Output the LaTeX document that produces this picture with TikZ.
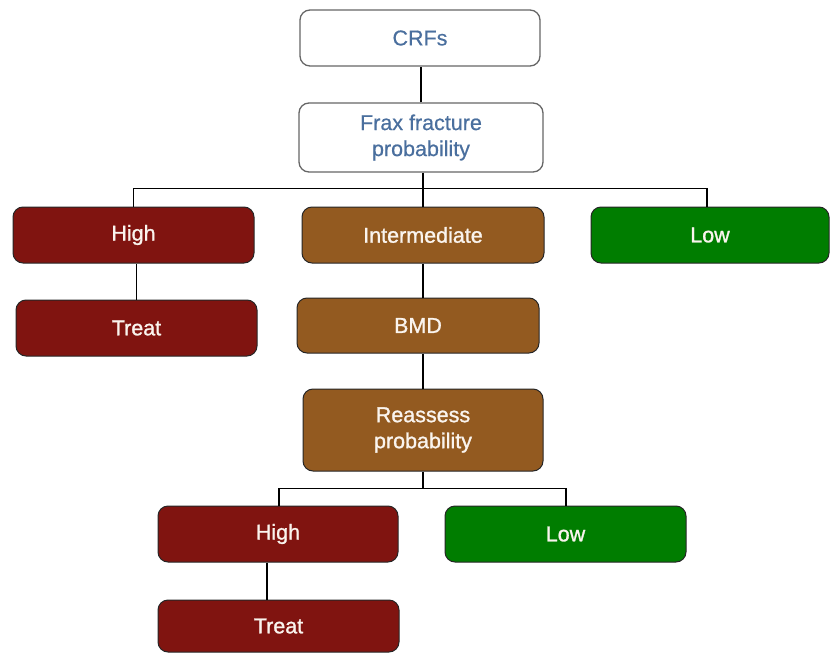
\documentclass[tikz,border=0pt]{standalone}
\usepackage{fontspec}
\setmainfont{Liberation Sans}
\newfontface\labelfont[FakeBold=1.2]{Liberation Sans}
\newfontface\lightlabelfont[FakeBold=0.5]{Liberation Sans}
\definecolor{topblue}{RGB}{74,111,158}
\definecolor{boxred}{RGB}{128,20,16}
\definecolor{boxbrown}{RGB}{147,90,32}
\definecolor{boxgreen}{RGB}{0,125,0}
\definecolor{boxtext}{RGB}{250,244,238}
\begin{document}
\begin{tikzpicture}[x=1pt,y=-1pt,
  box/.style={rounded corners=10pt,align=center,inner sep=0pt,minimum height=56pt},
  plainbox/.style={box,draw=black!60,line width=1.3pt,fill=white,text=topblue,
    font=\lightlabelfont\fontsize{21.5}{26}\selectfont},
  colourbox/.style={box,draw=black!85,line width=1pt,text=boxtext,
    font=\labelfont\fontsize{21.5}{26}\selectfont},
  redbox/.style={colourbox,fill=boxred},
  brownbox/.style={colourbox,fill=boxbrown},
  greenbox/.style={colourbox,fill=boxgreen},
  link/.style={draw=black,line width=1.3pt}]
\useasboundingbox (0,0) rectangle (830,653);

% top of the tree
\node[plainbox,minimum width=240pt] (crf) at (420,38) {CRFs};
\node[plainbox,minimum width=244pt,minimum height=69pt] (frax) at (421,137.5) {Frax fracture\\probability};

% first level of outcomes
\node[redbox,minimum width=241pt] (high) at (133.5,235) {High};
\node[brownbox,minimum width=242pt] (inter) at (423,235) {Intermediate};
\node[greenbox,minimum width=238pt] (low) at (710,235) {Low};

\node[redbox,minimum width=241pt] (treat) at (136.5,328) {Treat};
\node[brownbox,minimum width=242pt,minimum height=55pt] (bmd) at (418,325.5) {BMD};
\node[brownbox,minimum width=240pt,minimum height=82pt] (reas) at (423,430) {Reassess\\probability};

% second level of outcomes
\node[redbox,minimum width=240pt] (high2) at (278,534) {High};
\node[greenbox,minimum width=241pt] (low2) at (565.5,534) {Low};
\node[redbox,minimum width=241pt,minimum height=52pt] (treat2) at (278.5,626) {Treat};

% connectors
\draw[link] (frax.north) -- (frax.north |- crf.south);
\draw[link] ([xshift=2pt]frax.south) -- ++(0,16) coordinate (bus1);
\draw[link] (high.north) |- (bus1) -| ([xshift=-3pt]low.north);
\draw[link] (bus1) -- (inter.north);
\draw[link] (treat.north) -- (treat.north |- high.south);
\draw[link] (inter.south) -- (inter.south |- bmd.north);
\draw[link] (bmd.south -| inter.south) -- (reas.north);
\draw[link] (reas.south) -- ++(0,17) coordinate (bus2);
\draw[link] ([xshift=1pt]high2.north) |- (bus2) -| ([xshift=0.5pt]low2.north);
\draw[link] ([xshift=-11pt]high2.south) -- ([xshift=-11pt]high2.south |- treat2.north);
\end{tikzpicture}
\end{document}
